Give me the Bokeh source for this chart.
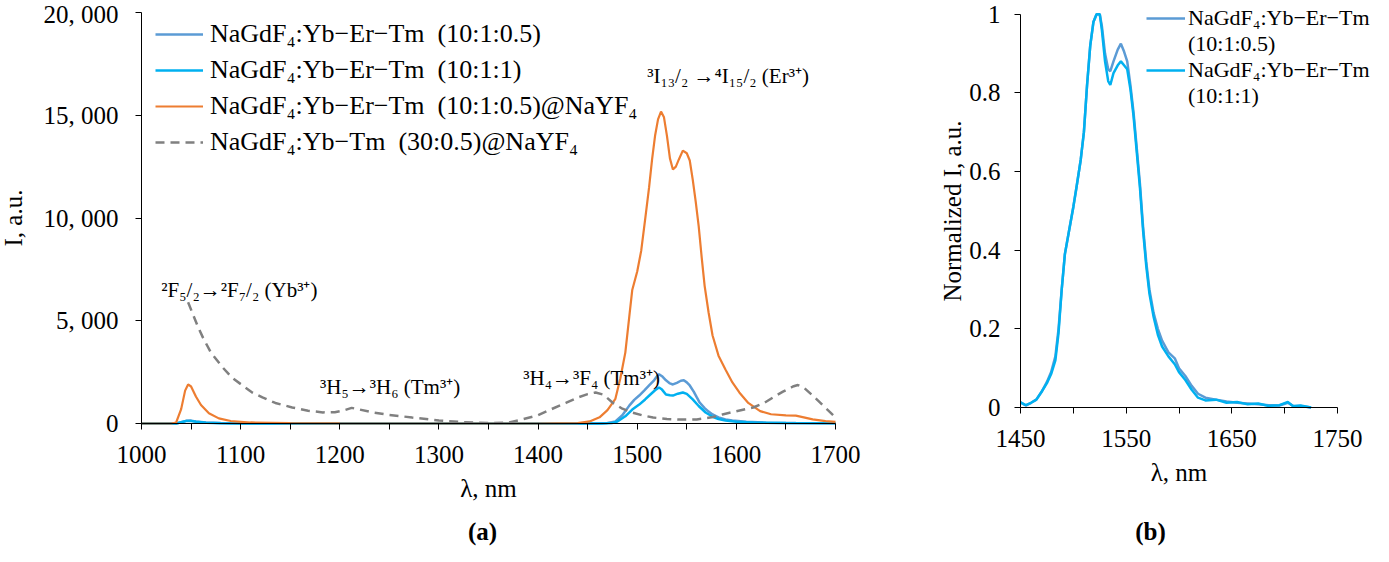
from bokeh.plotting import figure
from bokeh.models import Range1d, FixedTicker, Legend, LegendItem, ColumnDataSource
from bokeh.layouts import row
from bokeh.embed import file_html
from bokeh.resources import INLINE
from bokeh.core.properties import value

FONT = "Liberation Serif"

# ---------------- data: panel (a) ----------------
orange_x = [1000, 1030, 1035, 1040, 1044, 1047, 1050, 1055, 1060, 1068, 1078, 1090, 1110, 1150, 1200, 1300,
            1400, 1440, 1452, 1462, 1470, 1478, 1483, 1488, 1492, 1495, 1500, 1504, 1508, 1512, 1515, 1518,
            1521, 1524, 1527, 1530, 1533, 1536, 1539, 1542, 1546, 1550, 1553, 1556, 1559, 1562, 1565, 1568,
            1572, 1576, 1582, 1589, 1596, 1603, 1612, 1624, 1635, 1650, 1660, 1668, 1677, 1690, 1700]
orange_y = [0, 0, 50, 700, 1600, 1900, 1800, 1300, 900, 500, 250, 120, 50, 20, 10, 0,
            0, 20, 100, 300, 650, 1200, 2200, 3450, 5200, 6500, 7400, 8400, 9930, 11500, 12850, 14000,
            14800, 15180, 14900, 14000, 12900, 12360, 12500, 12850, 13280, 13150, 12800, 11870, 10800, 9600, 8100, 6700,
            5400, 4280, 3300, 2630, 2000, 1510, 1000, 600, 450, 400, 380, 300, 200, 120, 80]

blue_x = [1000, 1035, 1040, 1045, 1050, 1055, 1065, 1080, 1100, 1460, 1470, 1478, 1485, 1492, 1497, 1502,
          1507, 1512, 1517, 1520, 1522, 1525, 1529, 1533, 1536, 1540, 1544, 1547, 1550, 1553, 1557, 1560,
          1563, 1568, 1572, 1576, 1582, 1589, 1596, 1610, 1630, 1660, 1700]
blue_y = [0, 0, 60, 130, 140, 100, 50, 20, 0, 0, 30, 100, 400, 870, 1150, 1360,
          1600, 1850, 2100, 2300, 2400, 2300, 2100, 1950, 1900, 1980, 2080, 2100, 2000, 1850, 1550, 1280,
          1020, 750, 580, 440, 300, 200, 150, 80, 40, 20, 10]

cyan_x = [1000, 1035, 1040, 1045, 1050, 1055, 1065, 1080, 1100, 1465, 1475, 1480, 1488, 1495, 1502, 1508,
          1513, 1518, 1522, 1525, 1529, 1533, 1536, 1541, 1546, 1550, 1556, 1562, 1569, 1576, 1582, 1589,
          1600, 1620, 1650, 1700]
cyan_y = [0, 0, 60, 120, 120, 90, 40, 15, 0, 0, 30, 100, 350, 680, 920, 1170,
          1400, 1620, 1750, 1650, 1410, 1370, 1360, 1450, 1510, 1440, 1170, 850, 535, 330, 220, 150,
          80, 40, 20, 10]

gray_x = [1047, 1052, 1057, 1062, 1070, 1082, 1092, 1102, 1112, 1122, 1135, 1152, 1168, 1183, 1195, 1205,
          1212, 1220, 1233, 1250, 1273, 1300, 1325, 1350, 1370, 1384, 1400, 1415, 1428, 1440, 1450, 1458,
          1466, 1475, 1485, 1495, 1505, 1516, 1530, 1545, 1560, 1575, 1586, 1600, 1617, 1628, 1637, 1647,
          1657, 1662, 1668, 1677, 1688, 1700]
gray_y = [5900, 5300, 4700, 4180, 3450, 2720, 2200, 1850, 1500, 1270, 1000, 780, 620, 540, 550, 650,
          760, 680, 540, 420, 290, 150, 60, 20, 40, 200, 400, 730, 1000, 1265, 1430, 1510,
          1400, 1020, 720, 535, 400, 290, 220, 190, 200, 300, 440, 600, 780, 1000, 1270, 1550,
          1800, 1870, 1750, 1360, 850, 300]

labels_a = ["NaGdF\u2084:Yb\u2212Er\u2212Tm  (10:1:0.5)",
            "NaGdF\u2084:Yb\u2212Er\u2212Tm  (10:1:1)",
            "NaGdF\u2084:Yb\u2212Er\u2212Tm  (10:1:0.5)@NaYF\u2084",
            "NaGdF\u2084:Yb\u2212Tm  (30:0.5)@NaYF\u2084"]

ann_text = ["\u00b2F\u2085/\u2082\u2192\u00b2F\u2087/\u2082 (Yb\u00b3\u207a)",
            "\u00b3H\u2085\u2192\u00b3H\u2086 (Tm\u00b3\u207a)",
            "\u00b3H\u2084\u2192\u00b3F\u2084 (Tm\u00b3\u207a)",
            "\u00b3I\u2081\u2083/\u2082 \u2192\u2074I\u2081\u2085/\u2082 (Er\u00b3\u207a)"]
ann_x = [1020, 1180, 1385, 1510]
ann_y = [6500, 1800, 2200, 16900]

xticks_a = list(range(1000, 1701, 50))
yticks_a = [0, 5000, 10000, 15000, 20000]
ylabels_a = ["0", "5, 000", "10, 000", "15, 000", "20, 000"]

# ---------------- data: panel (b) ----------------
nb_x = [1450, 1455, 1460, 1465, 1470, 1475, 1479, 1483, 1486, 1489, 1492, 1496, 1500, 1503, 1507, 1510,
        1513, 1516, 1519, 1522, 1525, 1527, 1530, 1533, 1535, 1538, 1542, 1545, 1548, 1551, 1554, 1557,
        1560, 1563, 1566, 1569, 1572, 1576, 1580, 1584, 1590, 1596, 1600, 1606, 1612, 1618, 1625, 1635,
        1645, 1655, 1665, 1675, 1685, 1695, 1703, 1708, 1715, 1725]
nb_blue = [0.013, 0.005, 0.012, 0.02, 0.04, 0.065, 0.09, 0.13, 0.2, 0.3, 0.39, 0.45, 0.51, 0.56, 0.63, 0.7,
           0.82, 0.92, 0.98, 1.0, 1.0, 0.97, 0.9, 0.86, 0.855, 0.88, 0.91, 0.925, 0.905, 0.88, 0.82, 0.75,
           0.66, 0.57, 0.46, 0.37, 0.3, 0.24, 0.2, 0.17, 0.14, 0.125, 0.1, 0.08, 0.055, 0.035, 0.025, 0.02,
           0.015, 0.012, 0.01, 0.008, 0.006, 0.005, 0.012, 0.004, 0.004, 0.0]
nb_cyan = [0.013, 0.006, 0.012, 0.02, 0.04, 0.062, 0.085, 0.12, 0.19, 0.3, 0.39, 0.45, 0.51, 0.56, 0.63, 0.7,
           0.82, 0.92, 0.98, 1.0, 1.0, 0.96, 0.88, 0.83, 0.82, 0.85, 0.87, 0.88, 0.87, 0.86, 0.81, 0.74,
           0.65, 0.56, 0.45, 0.36, 0.29, 0.23, 0.185, 0.155, 0.13, 0.11, 0.09, 0.07, 0.045, 0.025, 0.018, 0.02,
           0.012, 0.014, 0.008, 0.01, 0.004, 0.006, 0.014, 0.003, 0.005, 0.0]
labels_b = [("NaGdF\u2084:Yb\u2212Er\u2212Tm", "(10:1:0.5)"),
            ("NaGdF\u2084:Yb\u2212Er\u2212Tm", "(10:1:1)")]

xticks_b = list(range(1450, 1751, 50))
yticks_b = [0, 0.2, 0.4, 0.6, 0.8, 1.0]
ylabels_b = ["0", "0.2", "0.4", "0.6", "0.8", "1"]

captions = ["(a)", "(b)"]

C_BLUE = "#5B9BD5"
C_CYAN = "#00B0F0"
C_ORANGE = "#ED7D31"
C_GRAY = "#808080"


def pixel_range(lo, hi, px_lo, px_hi, total):
    """Range whose [lo, hi] maps onto pixels [px_lo, px_hi] of a frame `total` px long."""
    k = (px_hi - px_lo) / (hi - lo)
    return Range1d(lo - px_lo / k, hi + (total - px_hi) / k)


def style_axes(p, xticks, xlabel_keep, yticks, ylabels, xlab, ylab, ylab_standoff, ytick_standoff,
               xbounds, ybounds):
    p.xaxis.ticker = FixedTicker(ticks=xticks)
    p.xaxis.major_label_overrides = {t: (str(t) if t in xlabel_keep else "") for t in xticks}
    p.yaxis.ticker = FixedTicker(ticks=yticks)
    p.yaxis.major_label_overrides = {t: l for t, l in zip(yticks, ylabels)}
    for ax in (p.xaxis[0], p.yaxis[0]):
        ax.axis_line_color = "black"
        ax.axis_line_width = 1
        ax.major_tick_line_color = "black"
        ax.major_tick_out = 6
        ax.major_tick_in = 0
        ax.minor_tick_line_color = None
        ax.major_label_text_font = FONT
        ax.major_label_text_font_size = "25px"
        ax.major_label_text_color = "black"
        ax.axis_label_text_font = FONT
        ax.axis_label_text_font_size = "25px"
        ax.axis_label_text_font_style = "normal"
        ax.axis_label_text_color = "black"
    p.xaxis.axis_label = xlab
    p.yaxis.axis_label = ylab
    p.xaxis.major_label_standoff = 16
    p.xaxis.axis_label_standoff = 9
    p.yaxis.major_label_standoff = ytick_standoff
    p.yaxis.axis_label_standoff = ylab_standoff
    p.xaxis.fixed_location = ybounds[0]
    p.yaxis.fixed_location = xbounds[0]
    p.xaxis.bounds = xbounds
    p.yaxis.bounds = ybounds
    p.xgrid.grid_line_color = None
    p.ygrid.grid_line_color = None
    p.outline_line_color = None


# ---------------- panel (a) ----------------
W1, H = 900, 546
p1 = figure(width=W1, height=H, min_border=0,
            x_range=pixel_range(1000, 1700, 141, 835, W1),
            y_range=pixel_range(0, 20000, 123, 534, H),
            output_backend="svg", toolbar_location=None)
style_axes(p1, xticks_a, set(range(1000, 1701, 100)), yticks_a, ylabels_a,
           "\u03bb, nm", "I, a.u.", 14, 17, (1000, 1700), (0, 20000))

r_blue = p1.line(blue_x, blue_y, line_color=C_BLUE, line_width=2.5)
r_cyan = p1.line(cyan_x, cyan_y, line_color=C_CYAN, line_width=2.5)
r_orange = p1.line(orange_x, orange_y, line_color=C_ORANGE, line_width=2.2)
r_gray = p1.line(gray_x, gray_y, line_color=C_GRAY, line_width=2.5, line_dash="9 6")

ann_src = ColumnDataSource(dict(x=ann_x, y=ann_y, text=ann_text))
p1.text(x="x", y="y", text="text", source=ann_src, text_font=value(FONT), text_font_size="21px",
        text_baseline="middle", text_align="left", text_color="black")

# caption (a), below the axis title
p1.text(x=[1344], y=[-5255], text=[captions[0]], text_font=value(FONT), text_font_size="25px",
        text_font_style="bold", text_align="center", text_baseline="middle", text_color="black")

leg1 = Legend(items=[LegendItem(label=labels_a[0], renderers=[r_blue]),
                     LegendItem(label=labels_a[1], renderers=[r_cyan]),
                     LegendItem(label=labels_a[2], renderers=[r_orange]),
                     LegendItem(label=labels_a[3], renderers=[r_gray])],
              location=(155, 389), orientation="vertical", margin=0, padding=0, spacing=6,
              label_height=30, glyph_height=30, glyph_width=48, label_standoff=7,
              label_text_font=FONT, label_text_font_size="26px", label_text_color="black",
              border_line_color=None, background_fill_alpha=0)
p1.add_layout(leg1)

# ---------------- panel (b) ----------------
W2 = 473
p2 = figure(width=W2, height=H, min_border=0,
            x_range=pixel_range(1450, 1750, 120, 437, W2),
            y_range=pixel_range(0, 1, 139, 532.3, H),
            output_backend="svg", toolbar_location=None)
style_axes(p2, xticks_b, {1450, 1550, 1650, 1750}, yticks_b, ylabels_b,
           "\u03bb, nm", "Normalized I, a.u.", 0, 14, (1450, 1750), (0, 1))

rb_blue = p2.line(nb_x, nb_blue, line_color=C_BLUE, line_width=2.5)
rb_cyan = p2.line(nb_x, nb_cyan, line_color=C_CYAN, line_width=2.5)
d1 = p2.line(x=[], y=[], line_alpha=0)
d2 = p2.line(x=[], y=[], line_alpha=0)

p2.text(x=[1573], y=[-0.3153], text=[captions[1]], text_font=value(FONT), text_font_size="25px",
        text_font_style="bold", text_align="center", text_baseline="middle", text_color="black")

leg2 = Legend(items=[LegendItem(label=labels_b[0][0], renderers=[rb_blue]),
                     LegendItem(label=labels_b[0][1], renderers=[d1]),
                     LegendItem(label=labels_b[1][0], renderers=[rb_cyan]),
                     LegendItem(label=labels_b[1][1], renderers=[d2])],
              location=(246, 437), orientation="vertical", margin=0, padding=0, spacing=-4,
              label_height=20, glyph_height=20, glyph_width=39, label_standoff=3,
              label_text_font=FONT, label_text_font_size="22px", label_text_color="black",
              border_line_color=None, background_fill_alpha=0)
p2.add_layout(leg2)

layout = row(p1, p2)
open("out.html", "w").write(file_html(layout, INLINE))
